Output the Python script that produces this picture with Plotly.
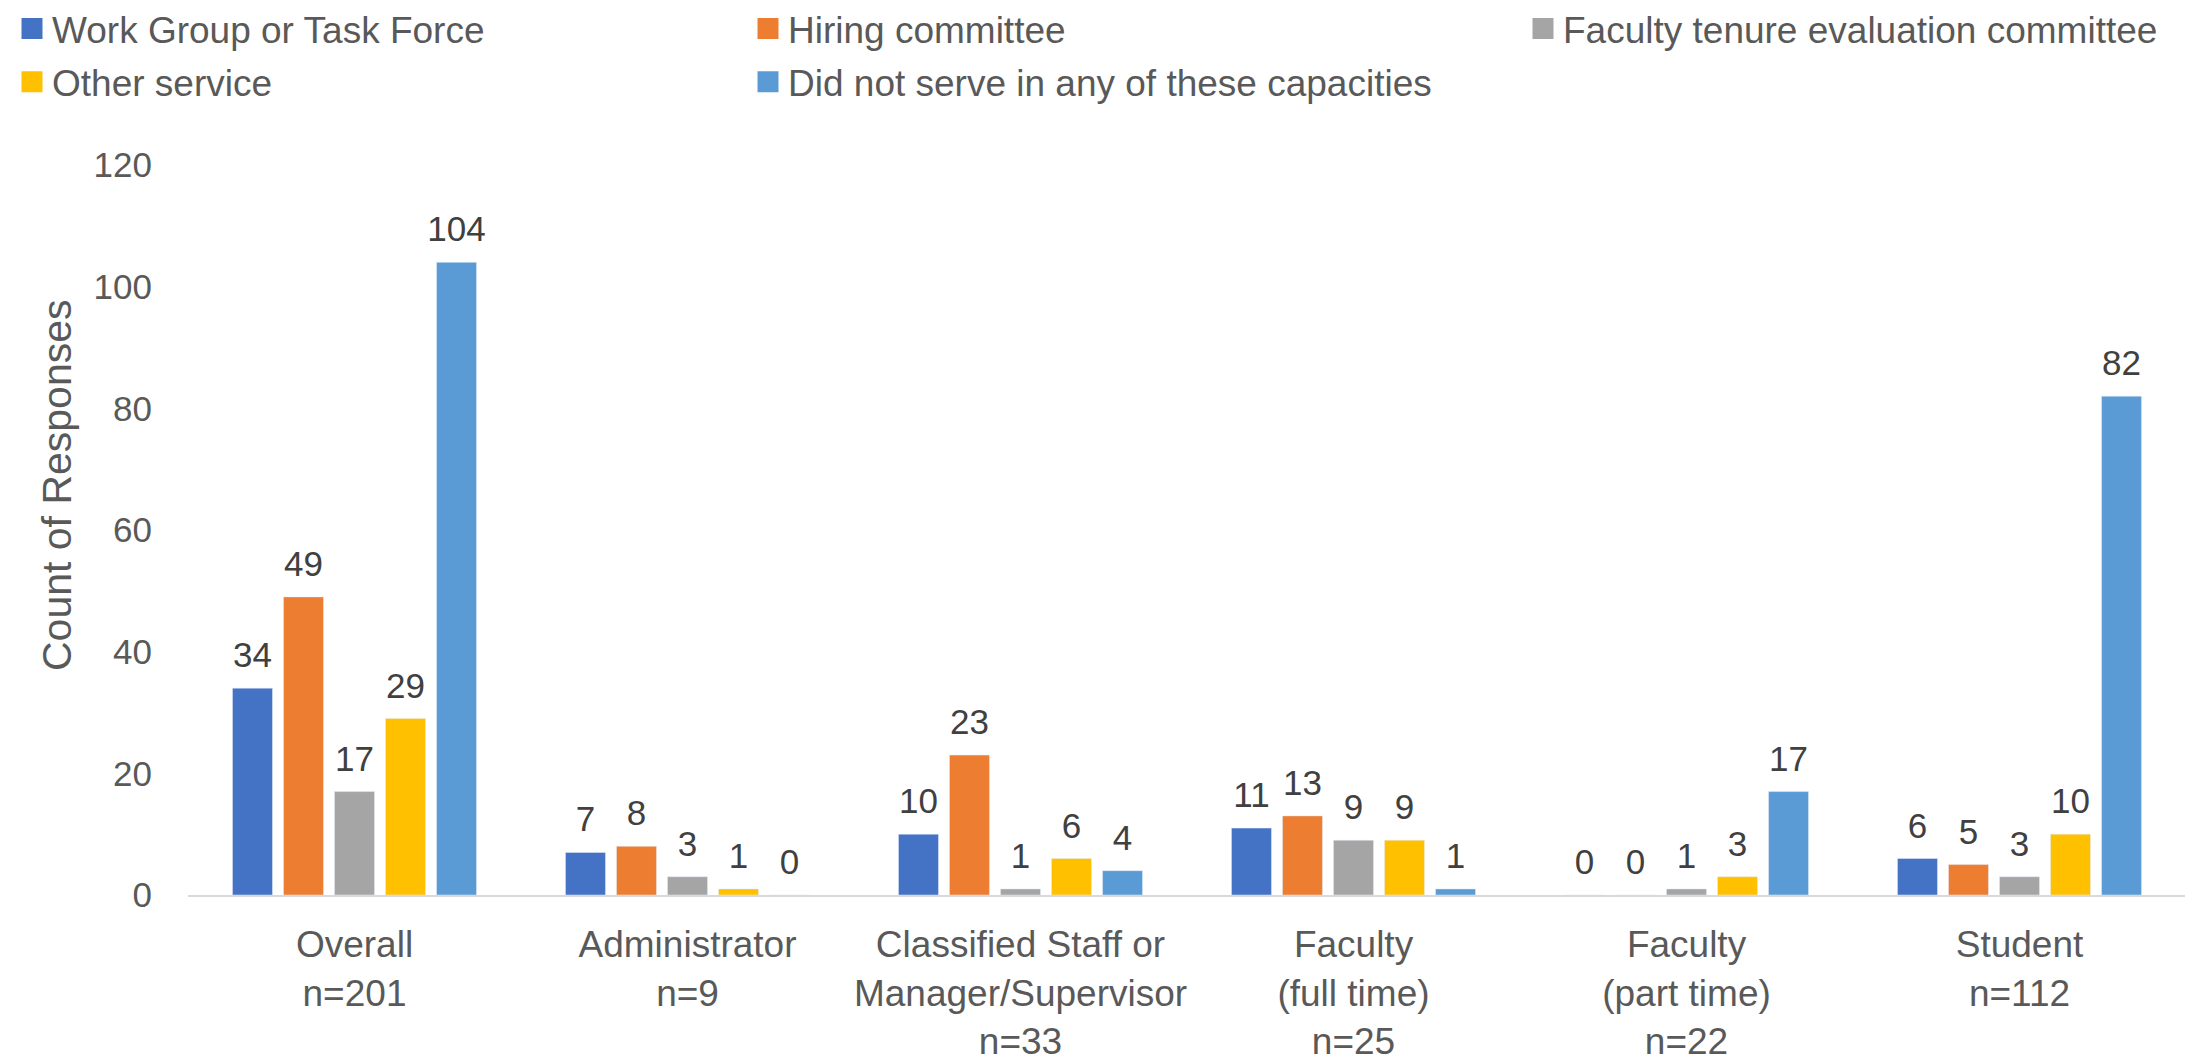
import plotly.graph_objects as go

categories = ["Overall<br>n=201", "Administrator<br>n=9", "Classified Staff or<br>Manager/Supervisor<br>n=33",
              "Faculty<br>(full time)<br>n=25", "Faculty<br>(part time)<br>n=22", "Student<br>n=112"]
series_names = ["Work Group or Task Force", "Hiring committee", "Faculty tenure evaluation committee",
                "Other service", "Did not serve in any of these capacities"]
work_group = [34, 7, 10, 11, 0, 6]
hiring = [49, 8, 23, 13, 0, 5]
tenure = [17, 3, 1, 9, 1, 3]
other = [29, 1, 6, 9, 3, 10]
did_not = [104, 0, 4, 1, 17, 82]
y_ticks = [0, 20, 40, 60, 80, 100, 120]
y_title = "Count of Responses"

values = [work_group, hiring, tenure, other, did_not]
colors = ["#4472C4", "#ED7D31", "#A5A5A5", "#FFC000", "#5B9BD5"]
legend_ids = ["legend", "legend2", "legend3", "legend", "legend2"]

FONT = "Liberation Sans, Arial, sans-serif"
# the page body adds an 8px offset, so the figure is 8px smaller
W, H = 2185, 1053
ML, MT, MR, MB = 180, 157, 7, 166
PH = H - MT - MB

fig = go.Figure()
for name, vals, col in zip(series_names, values, colors):
    fig.add_trace(go.Bar(
        x=categories, y=vals, name=name, marker_color=col, showlegend=False,
        hoverinfo="skip",
    ))

# data labels, placed with the same grouping as the bars
for name, vals in zip(series_names, values):
    fig.add_trace(go.Scatter(
        x=categories, y=vals, mode="markers+text", showlegend=False, hoverinfo="skip",
        text=[str(v) for v in vals], textposition="top center", cliponaxis=False,
        textfont=dict(family=FONT, size=35, color="#404040"),
        marker=dict(size=18, color="rgba(0,0,0,0)"),
    ))

# legend entries (on a hidden overlay subplot so they do not join the grouping)
for name, col, lg in zip(series_names, colors, legend_ids):
    fig.add_trace(go.Scatter(
        x=[None], y=[None], mode="markers", name=name, legend=lg, legendgroup=name,
        xaxis="x2", yaxis="y2", hoverinfo="skip",
        marker=dict(symbol="square", size=16, color=col, line=dict(color=col, width=5)),
    ))

leg_common = dict(font=dict(family=FONT, size=37, color="#595959"), bgcolor="rgba(0,0,0,0)",
                  xref="container", yref="paper", xanchor="left", yanchor="top",
                  orientation="v", tracegroupgap=2, itemsizing="trace")
ly = 1 + (MT + 10) / PH

fig.update_layout(
    width=W, height=H,
    margin=dict(l=ML, r=MR, t=MT, b=MB, autoexpand=False),
    plot_bgcolor="white", paper_bgcolor="white",
    barmode="group", bargap=0.234, bargroupgap=0.216,
    scattermode="group", scattergap=0.234,
    font=dict(family=FONT, color="#595959"),
    legend=dict(x=4 / W, y=ly, **leg_common),
    legend2=dict(x=740 / W, y=ly, **leg_common),
    legend3=dict(x=1515 / W, y=ly, **leg_common),
    xaxis2=dict(overlaying="x", visible=False, range=[0, 1]),
    yaxis2=dict(overlaying="y", visible=False, range=[0, 1]),
    annotations=[dict(
        text=y_title, textangle=-90, xref="paper", yref="paper",
        x=(49 - ML) / (W - ML - MR), y=(895 - 485) / PH,
        xanchor="center", yanchor="middle", showarrow=False,
        font=dict(family=FONT, size=41, color="#595959"),
    )],
    xaxis=dict(showline=True, linecolor="#D9D9D9", linewidth=2, ticks="", showgrid=False,
               tickfont=dict(family=FONT, size=37, color="#595959"), ticklabelstandoff=16,
               automargin=False, zeroline=False),
    yaxis=dict(range=[0, 120], tickvals=y_ticks, showgrid=False, showline=False, zeroline=False,
               tickfont=dict(family=FONT, size=35, color="#595959"), ticklabelstandoff=35,
               automargin=False),
)

fig.write_html("out.html")
